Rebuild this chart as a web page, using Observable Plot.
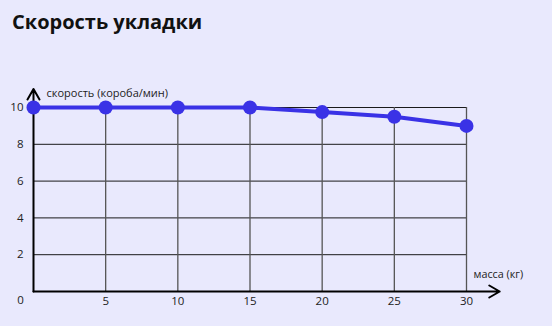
<!DOCTYPE html>
<html>
<head>
<meta charset="utf-8">
<script src="https://cdn.jsdelivr.net/npm/d3@7"></script>
<script src="https://cdn.jsdelivr.net/npm/@observablehq/plot@0.6"></script>
<style>
  html, body { margin: 0; padding: 0; background: #e9e9fd; }
  #wrap { position: relative; width: 552px; height: 326px; font-family: "Open Sans", "Noto Sans", sans-serif; }
  #title { position: absolute; left: 12px; top: 8px; font-size: 20px; font-weight: 700; color: #111; }
  #chart { position: absolute; left: 0; top: 0; }
</style>
</head>
<body>
<div id="wrap">
  <div id="chart"></div>
  <div id="title">Скорость укладки</div>
</div>
<script>
const titleText = "Скорость укладки";
const massKg = [0, 5, 10, 15, 20, 25, 30];
const speed = [10, 10, 10, 10, 9.75, 9.5, 9.0];
const xTicks = [5, 10, 15, 20, 25, 30];
const yTicks = [2, 4, 6, 8, 10];
const xLabel = "масса (кг)";
const yLabel = "скорость (короба/мин)";

const data = massKg.map((m, i) => ({m, s: speed[i]}));
const color = "#3a32e6";

const chart = Plot.plot({
  width: 552,
  height: 326,
  marginLeft: 33,
  marginRight: 86,
  marginTop: 107,
  marginBottom: 35,
  style: {background: "transparent", fontFamily: "'Open Sans', 'Noto Sans', sans-serif", fontSize: "11px", color: "#222"},
  x: {domain: [0, 30], axis: null},
  y: {domain: [0, 10], axis: null},
  marks: [
    Plot.ruleY(yTicks, {x1: 0, x2: 30, stroke: "#1a1a1a", strokeWidth: 1}),
    Plot.ruleX(xTicks, {y1: 0, y2: 10, stroke: "#555", strokeWidth: 1.3}),
    Plot.arrow([{x1: 0, y1: 0, x2: 0, y2: 11}], {x1: "x1", y1: "y1", x2: "x2", y2: "y2", stroke: "#000", strokeWidth: 2, headLength: 9, bend: 0}),
    Plot.arrow([{x1: 0, y1: 0, x2: 32.3, y2: 0}], {x1: "x1", y1: "y1", x2: "x2", y2: "y2", stroke: "#000", strokeWidth: 2, headLength: 9, bend: 0}),
    Plot.text(yTicks, {x: 0, y: d => d, text: d => String(d), textAnchor: "end", dx: -10, fontSize: 11.5, fill: "#222"}),
    Plot.text(xTicks, {x: d => d, y: 0, text: d => String(d), dy: 10, fontSize: 11.5, fill: "#222"}),
    Plot.text([0], {x: 0, y: 0, text: d => String(d), dx: -13, dy: 9, fontSize: 11.5, fill: "#222"}),
    Plot.text([yLabel], {x: 0, y: 10, text: d => d, textAnchor: "start", dx: 13, dy: -14, fontSize: 11, fill: "#222"}),
    Plot.text([xLabel], {x: 30, y: 0, text: d => d, textAnchor: "start", dx: 7, dy: -17, fontSize: 10.8, fill: "#222"}),
    Plot.line(data, {x: "m", y: "s", stroke: color, strokeWidth: 4}),
    Plot.dot(data, {x: "m", y: "s", r: 7, fill: color, stroke: "none"})
  ]
});
document.getElementById("chart").appendChild(chart);
</script>
</body>
</html>
